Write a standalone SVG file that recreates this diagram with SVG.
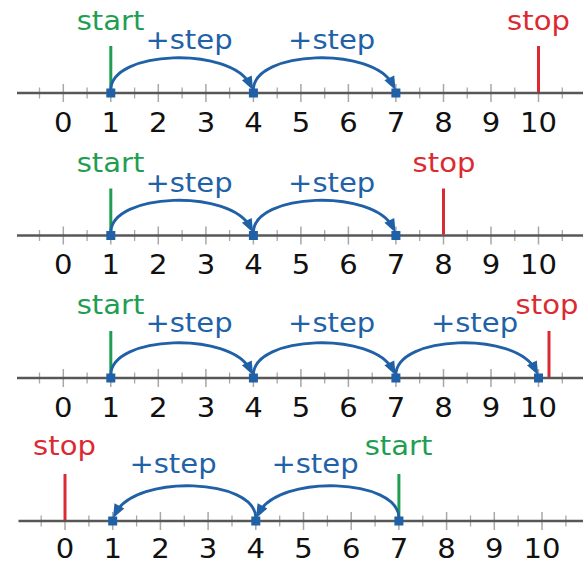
<svg xmlns="http://www.w3.org/2000/svg" xmlns:xlink="http://www.w3.org/1999/xlink" width="583" height="561" viewBox="0 0 583 561">
<style>
text{font-family:"DejaVu Sans","Liberation Sans",sans-serif;font-size:26px;text-anchor:middle}
.num{fill:#111}
.st{fill:#1f9e52}
.sp{fill:#db2a31}
.ps{fill:#1f62a7}
.axis{stroke:#575757;stroke-width:2.6;fill:none}
.maj{stroke:#a8a8a8;stroke-width:1.5;fill:none}
.min{stroke:#a8a8a8;stroke-width:1.3;fill:none}
.arc{stroke:#1f60a6;stroke-width:2.8;fill:none;marker-end:url(#ah)}
.sl{stroke:#1f9e52;stroke-width:3}
.rl{stroke:#db2a31;stroke-width:3}
.pt{fill:#1f60a6}
</style>
<defs>
<marker id="ah" markerUnits="userSpaceOnUse" markerWidth="15" markerHeight="12" refX="8" refY="5.5" orient="auto" overflow="visible">
<path d="M0,0 L14,5.5 L0,11 z" fill="#1f60a6"/>
</marker>
<g id="ticksA">
<path class="maj" d="M63.3,-9V9M110.8,-9V9M158.3,-9V9M205.9,-9V9M253.4,-9V9M300.9,-9V9M348.4,-9V9M395.9,-9V9M443.5,-9V9M491,-9V9M538.5,-9V9"/>
<path class="min" d="M39.5,-5.5V5.5M87.1,-5.5V5.5M134.6,-5.5V5.5M182.1,-5.5V5.5M229.6,-5.5V5.5M277.2,-5.5V5.5M324.7,-5.5V5.5M372.2,-5.5V5.5M419.7,-5.5V5.5M467.2,-5.5V5.5M514.8,-5.5V5.5M562.3,-5.5V5.5"/>
<line class="axis" x1="17" y1="0" x2="583" y2="0"/>
</g>
<g id="numsA">
<text class="num" x="63.3" y="0" textLength="18.5" lengthAdjust="spacingAndGlyphs">0</text>
<text class="num" x="110.8" y="0" textLength="18.5" lengthAdjust="spacingAndGlyphs">1</text>
<text class="num" x="158.3" y="0" textLength="18.5" lengthAdjust="spacingAndGlyphs">2</text>
<text class="num" x="205.9" y="0" textLength="18.5" lengthAdjust="spacingAndGlyphs">3</text>
<text class="num" x="253.4" y="0" textLength="18.5" lengthAdjust="spacingAndGlyphs">4</text>
<text class="num" x="300.9" y="0" textLength="18.5" lengthAdjust="spacingAndGlyphs">5</text>
<text class="num" x="348.4" y="0" textLength="18.5" lengthAdjust="spacingAndGlyphs">6</text>
<text class="num" x="395.9" y="0" textLength="18.5" lengthAdjust="spacingAndGlyphs">7</text>
<text class="num" x="443.5" y="0" textLength="18.5" lengthAdjust="spacingAndGlyphs">8</text>
<text class="num" x="491" y="0" textLength="18.5" lengthAdjust="spacingAndGlyphs">9</text>
<text class="num" x="538.5" y="0" textLength="37" lengthAdjust="spacingAndGlyphs">10</text>
</g>
</defs>

<!-- Row 1 -->
<g id="row1-axis">
<use xlink:href="#ticksA" transform="translate(0,93)"/>
<use xlink:href="#numsA" transform="translate(0,131.5)"/>
</g>
<g id="row1-start"><line class="sl" x1="110.8" y1="46" x2="110.8" y2="92"/><text class="st" x="110.5" y="29.5" textLength="67.7" lengthAdjust="spacingAndGlyphs">start</text></g>
<g id="row1-stop"><line class="rl" x1="538.5" y1="46" x2="538.5" y2="92"/><text class="sp" x="538.5" y="29.5" textLength="62.8" lengthAdjust="spacingAndGlyphs">stop</text></g>

<!-- Row 2 -->
<g id="row2-axis">
<use xlink:href="#ticksA" transform="translate(0,235.5)"/>
<use xlink:href="#numsA" transform="translate(0,274)"/>
</g>
<g id="row2-start"><line class="sl" x1="110.8" y1="188.5" x2="110.8" y2="234.5"/><text class="st" x="110.5" y="172" textLength="67.7" lengthAdjust="spacingAndGlyphs">start</text></g>
<g id="row2-stop"><line class="rl" x1="443.5" y1="188.5" x2="443.5" y2="234.5"/><text class="sp" x="444" y="172" textLength="62.8" lengthAdjust="spacingAndGlyphs">stop</text></g>

<!-- Row 3 -->
<g id="row3-axis">
<use xlink:href="#ticksA" transform="translate(0,378)"/>
<use xlink:href="#numsA" transform="translate(0,416.5)"/>
</g>
<g id="row3-start"><line class="sl" x1="110.8" y1="331" x2="110.8" y2="377"/><text class="st" x="110.5" y="313.5" textLength="67.7" lengthAdjust="spacingAndGlyphs">start</text></g>
<g id="row3-stop"><line class="rl" x1="549" y1="331" x2="549" y2="377"/><text class="sp" x="547" y="313.5" textLength="62.8" lengthAdjust="spacingAndGlyphs">stop</text></g>

<!-- Row 4 -->
<g id="row4-axis">
<path class="maj" d="M65,512V530M112.7,512V530M160.4,512V530M208.1,512V530M255.8,512V530M303.5,512V530M351.2,512V530M398.9,512V530M446.6,512V530M494.3,512V530M542,512V530"/>
<path class="min" d="M41.2,515.5V526.5M88.9,515.5V526.5M136.6,515.5V526.5M184.3,515.5V526.5M232,515.5V526.5M279.7,515.5V526.5M327.4,515.5V526.5M375.1,515.5V526.5M422.8,515.5V526.5M470.5,515.5V526.5M518.2,515.5V526.5M565.9,515.5V526.5"/>
<line class="axis" x1="18.5" y1="521" x2="583" y2="521"/>
<text class="num" x="65" y="557.5" textLength="18.5" lengthAdjust="spacingAndGlyphs">0</text>
<text class="num" x="112.7" y="557.5" textLength="18.5" lengthAdjust="spacingAndGlyphs">1</text>
<text class="num" x="160.4" y="557.5" textLength="18.5" lengthAdjust="spacingAndGlyphs">2</text>
<text class="num" x="208.1" y="557.5" textLength="18.5" lengthAdjust="spacingAndGlyphs">3</text>
<text class="num" x="255.8" y="557.5" textLength="18.5" lengthAdjust="spacingAndGlyphs">4</text>
<text class="num" x="303.5" y="557.5" textLength="18.5" lengthAdjust="spacingAndGlyphs">5</text>
<text class="num" x="351.2" y="557.5" textLength="18.5" lengthAdjust="spacingAndGlyphs">6</text>
<text class="num" x="398.9" y="557.5" textLength="18.5" lengthAdjust="spacingAndGlyphs">7</text>
<text class="num" x="446.6" y="557.5" textLength="18.5" lengthAdjust="spacingAndGlyphs">8</text>
<text class="num" x="494.3" y="557.5" textLength="18.5" lengthAdjust="spacingAndGlyphs">9</text>
<text class="num" x="542" y="557.5" textLength="37" lengthAdjust="spacingAndGlyphs">10</text>
</g>
<g id="row4-stop"><line class="rl" x1="65" y1="474" x2="65" y2="520"/><text class="sp" x="64.5" y="454.5" textLength="62.8" lengthAdjust="spacingAndGlyphs">stop</text></g>
<g id="row4-start"><line class="sl" x1="398.9" y1="474" x2="398.9" y2="520"/><text class="st" x="398.5" y="454.5" textLength="67.7" lengthAdjust="spacingAndGlyphs">start</text></g>

<!-- Connectors -->
<g id="connectors">
<path class="arc" d="M110.8,90 C110.8,50 230.8,46 250.4,85"/>
<path class="arc" d="M253.4,90 C253.4,50 373.4,46 392.9,85"/>
<path class="arc" d="M110.8,232.5 C110.8,192.5 230.8,188.5 250.4,227.5"/>
<path class="arc" d="M253.4,232.5 C253.4,192.5 373.4,188.5 392.9,227.5"/>
<path class="arc" d="M110.8,375 C110.8,335 230.8,331 250.4,370"/>
<path class="arc" d="M253.4,375 C253.4,335 373.4,331 392.9,370"/>
<path class="arc" d="M395.9,375 C395.9,335 515.9,331 535.5,370"/>
<path class="arc" d="M398.9,518 C398.9,478 278.9,474 258.8,513"/>
<path class="arc" d="M255.8,518 C255.8,478 135.8,474 115.7,513"/>
</g>
<g id="step-labels">
<text class="ps" x="189" y="49" textLength="87.2" lengthAdjust="spacingAndGlyphs">+step</text>
<text class="ps" x="331.7" y="49" textLength="87.2" lengthAdjust="spacingAndGlyphs">+step</text>
<text class="ps" x="189" y="191.5" textLength="87.2" lengthAdjust="spacingAndGlyphs">+step</text>
<text class="ps" x="331.7" y="191.5" textLength="87.2" lengthAdjust="spacingAndGlyphs">+step</text>
<text class="ps" x="189" y="332" textLength="87.2" lengthAdjust="spacingAndGlyphs">+step</text>
<text class="ps" x="331.7" y="332" textLength="87.2" lengthAdjust="spacingAndGlyphs">+step</text>
<text class="ps" x="474.5" y="332" textLength="87.2" lengthAdjust="spacingAndGlyphs">+step</text>
<text class="ps" x="173" y="472.5" textLength="87.2" lengthAdjust="spacingAndGlyphs">+step</text>
<text class="ps" x="315" y="472.5" textLength="87.2" lengthAdjust="spacingAndGlyphs">+step</text>
</g>

<!-- Points -->
<g id="points">
<rect class="pt" x="106.3" y="88.5" width="9" height="9"/>
<rect class="pt" x="248.9" y="88.5" width="9" height="9"/>
<rect class="pt" x="391.4" y="88.5" width="9" height="9"/>
<rect class="pt" x="106.3" y="231" width="9" height="9"/>
<rect class="pt" x="248.9" y="231" width="9" height="9"/>
<rect class="pt" x="391.4" y="231" width="9" height="9"/>
<rect class="pt" x="106.3" y="373.5" width="9" height="9"/>
<rect class="pt" x="248.9" y="373.5" width="9" height="9"/>
<rect class="pt" x="391.4" y="373.5" width="9" height="9"/>
<rect class="pt" x="534" y="373.5" width="9" height="9"/>
<rect class="pt" x="108.2" y="516.5" width="9" height="9"/>
<rect class="pt" x="251.3" y="516.5" width="9" height="9"/>
<rect class="pt" x="394.4" y="516.5" width="9" height="9"/>
</g>
</svg>
